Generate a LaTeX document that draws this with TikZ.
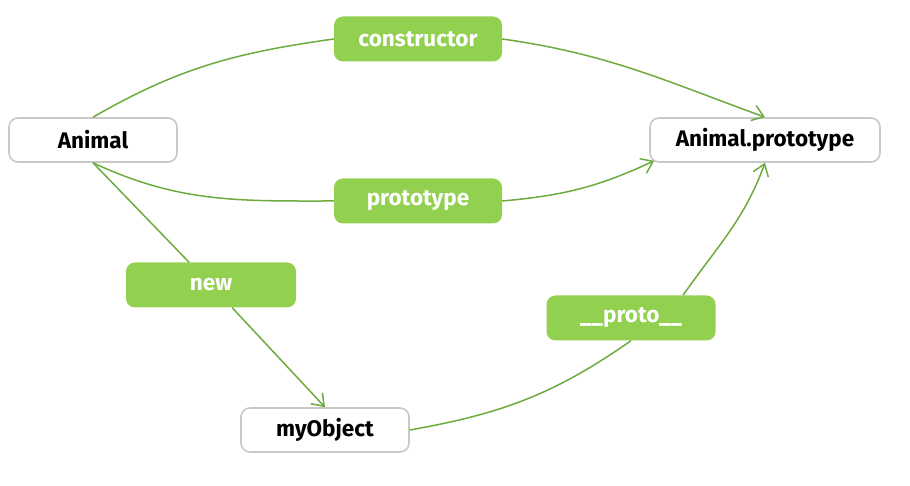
\documentclass[tikz,border=0pt]{standalone}
\usepackage{fontspec}
\setmainfont{Fira Sans}
\usepackage{xcolor}
\usetikzlibrary{arrows.meta}
\definecolor{boxline}{HTML}{C8C8C8}
\definecolor{lblfill}{HTML}{92D050}
\definecolor{edgecol}{HTML}{6DAB3F}

\begin{document}
\begin{tikzpicture}[x=1pt,y=1pt,
  every node/.style={font=\fontsize{22.5pt}{26pt}\selectfont\bfseries},
  objbox/.style={draw=boxline,line width=1.6pt,fill=white,rounded corners=9pt,
    minimum width=168pt,minimum height=44pt},
  lblbox/.style={fill=lblfill,text=white,rounded corners=9pt,
    minimum width=168pt,minimum height=45pt},
  link/.style={draw=edgecol,line width=1.5pt},
  arr/.style={link,-{Straight Barb[length=11pt,width=16pt,line width=1.5pt]}}]
  \useasboundingbox (0,0) rectangle (910,486);
  % objects
  \node[objbox] (animal)  at (93,346)  {Animal};
  \node[objbox,minimum width=230pt] (aproto) at (765,346) {Animal.prototype};
  \node[objbox] (myobj)   at (325,56)  {myObject};
  % labels
  \node[lblbox] (ctor)  at (418,447) {constructor};
  \node[lblbox] (ptype) at (418,285) {prototype};
  \node[lblbox,minimum width=170pt] (new) at (211,201) {new};
  \node[lblbox,minimum width=169pt] (proto) at (631,168) {\_\_proto\_\_};
  % links
  \draw[link] (animal.north) to[out=30,in=188] (ctor.west);
  \draw[arr]  (ctor.east) to[out=-8,in=160] (aproto.north);
  \draw[link] (animal.south) to[out=-25,in=180] (ptype.west);
  \draw[arr]  (ptype.east) to[out=5,in=205] ([xshift=5pt,yshift=2pt]aproto.south west);
  \draw[link] (animal.south) -- (new);
  \draw[arr]  (new) -- (myobj.north);
  \draw[link] (myobj.east) to[out=10,in=215] (proto.south);
  \draw[arr]  ([xshift=52pt]proto.north) to[out=55,in=250] (aproto.south);
\end{tikzpicture}
\end{document}
